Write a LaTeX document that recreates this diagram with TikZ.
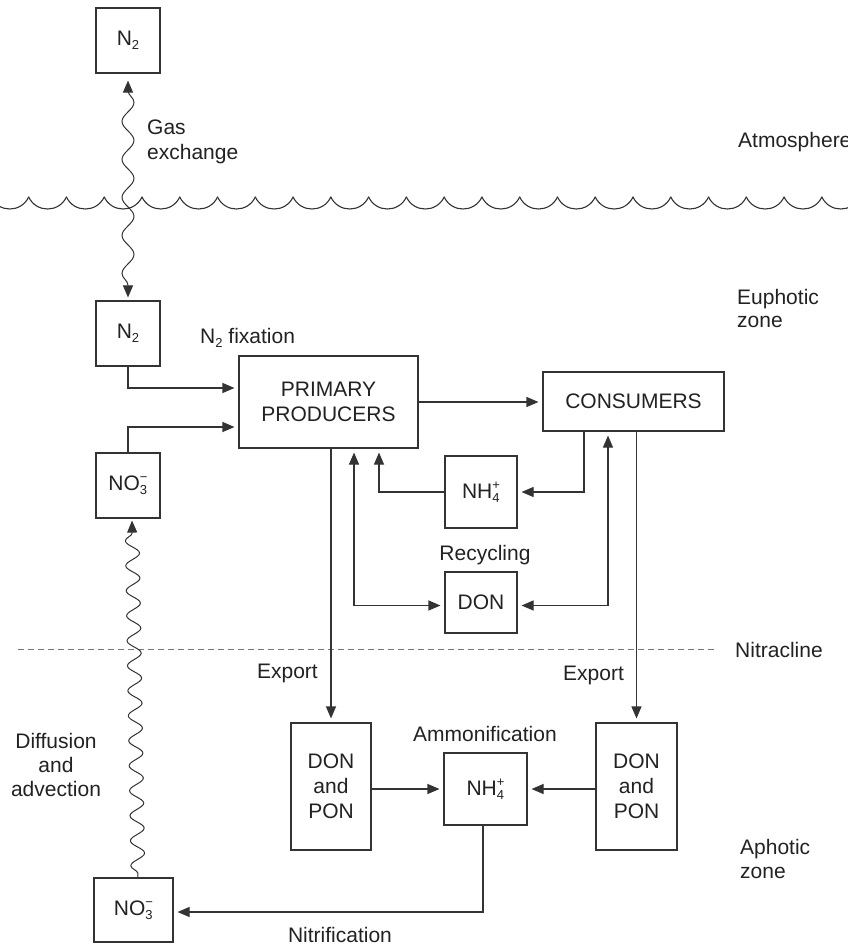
\documentclass[tikz,border=0pt]{standalone}
\usepackage{fontspec}
\setmainfont{Liberation Sans}
\usetikzlibrary{arrows.meta,decorations.pathmorphing}
\definecolor{lncol}{HTML}{333333}
\definecolor{txtcol}{HTML}{222222}
\definecolor{dashcol}{HTML}{777777}
\newcommand{\ssb}[2]{\rlap{\raisebox{-4pt}{\fontsize{13}{13}\selectfont #1}}\raisebox{9pt}{\fontsize{13}{13}\selectfont #2}}
\newcommand{\sbb}[1]{\raisebox{-4pt}{\fontsize{13}{13}\selectfont #1}}
\begin{document}
\begin{tikzpicture}[x=1pt,y=-1pt,
  every node/.style={font=\fontsize{21}{25}\selectfont, text=txtcol},
  box/.style={draw=lncol, line width=1.1pt, inner sep=0pt, align=center},
  lbl/.style={inner sep=0pt},
  arr/.style={draw=lncol, line width=1.1pt, -{Triangle[length=12pt,width=10pt]}, shorten >=4pt},
  darr/.style={draw=lncol, line width=1.1pt, {Triangle[length=12pt,width=10pt]}-{Triangle[length=12pt,width=10pt]}, shorten >=4pt, shorten <=4pt},
  plain/.style={draw=lncol, line width=1.1pt},
  sea/.style={draw=lncol, line width=1.1pt, line cap=round},
  gaswave/.style={draw=lncol, line width=1pt, decorate, decoration={snake, amplitude=6pt, segment length=38pt, pre length=10pt, post length=10pt}, {Triangle[length=12pt,width=10pt]}-{Triangle[length=12pt,width=10pt]}},
  difwave/.style={draw=lncol, line width=1pt, decorate, decoration={snake, amplitude=7pt, segment length=25pt, pre length=4pt, post length=12pt}, -{Triangle[length=12pt,width=10pt]}},
  nitra/.style={draw=dashcol, line width=1pt, dash pattern=on 6pt off 4pt}
]
\useasboundingbox (0,0) rectangle (848,945);
\fill[white] (0,0) rectangle (848,945);

% boxes
\node[box, minimum width=64pt, minimum height=65pt] (n2top) at (128,40.5) {N\sbb{2}};
\node[box, minimum width=64pt, minimum height=65pt] (n2low) at (128,333.5) {N\sbb{2}};
\node[box, minimum width=179pt, minimum height=92pt] (pp) at (328.5,402) {PRIMARY\\PRODUCERS};
\node[box, minimum width=181pt, minimum height=59pt] (cons) at (633.5,401.5) {CONSUMERS};
\node[box, minimum width=64pt, minimum height=65pt] (no3up) at (128,485.5) {NO\ssb{3}{−}};
\node[box, minimum width=72pt, minimum height=72pt] (nh4up) at (481,492) {NH\ssb{4}{+}};
\node[box, minimum width=72pt, minimum height=61pt] (don) at (481,602.5) {DON};
\node[box, minimum width=80pt, minimum height=127pt] (dprL) at (331,786.5) {DON\\and\\PON};
\node[box, minimum width=83pt, minimum height=72pt] (nh4low) at (485.5,789) {NH\ssb{4}{+}};
\node[box, minimum width=81pt, minimum height=127pt] (dprR) at (636.5,786.5) {DON\\and\\PON};
\node[box, minimum width=79pt, minimum height=64pt] (no3low) at (133.5,910) {NO\ssb{3}{−}};

% labels
\node[lbl, anchor=base west] (gas1) at (147,134) {Gas};
\node[lbl, anchor=base west] (gas2) at (147,159) {exchange};
\node[lbl, anchor=base west] (atm) at (738,147) {Atmosphere};
\node[lbl, anchor=base west] (eu1) at (737,304) {Euphotic};
\node[lbl, anchor=base west] (eu2) at (737,327) {zone};
\node[lbl, anchor=base west] (fix) at (200,343) {N\sbb{2} fixation};
\node[lbl, anchor=base] (rec) at (485,560) {Recycling};
\node[lbl, anchor=base west] (nitr) at (735,657) {Nitracline};
\node[lbl, anchor=base east] (expL) at (318,678) {Export};
\node[lbl, anchor=base west] (expR) at (563,680) {Export};
\node[lbl, anchor=base] (amm) at (485,741) {Ammonification};
\node[lbl, anchor=base] (dif1) at (56,748) {Diffusion};
\node[lbl, anchor=base] (dif2) at (56,772) {and};
\node[lbl, anchor=base] (dif3) at (56,796) {advection};
\node[lbl, anchor=base west] (aph1) at (740,854) {Aphotic};
\node[lbl, anchor=base west] (aph2) at (740,878) {zone};
\node[lbl, anchor=base] (nitrif) at (340,942) {Nitrification};

% sea surface
\foreach \k in {0,...,23}{
  \pgfmathsetmacro\xa{-9.08+37.77*\k}
  \draw[sea] (\xa,197) .. controls ({\xa+7.53},213) and ({\xa+30.24},213) .. ({\xa+37.77},197);
}

% nitracline
\draw[nitra] (18,649) -- (717,649);

% connectors
\draw[gaswave] ([yshift=-7pt]n2top.south) -- ([yshift=3pt]n2low.north);
\draw[arr] (n2low.south) |- ([yshift=14pt]pp.west);
\draw[arr] (no3up.north) |- ([yshift=-25pt]pp.west);
\draw[arr] (pp.east) -- (pp.east -| cons.west);
\draw[arr] (nh4up.west) -| ([xshift=50.5pt]pp.south);
\draw[darr] ([xshift=25.5pt]pp.south) |- ([yshift=-3pt]don.west);
\draw[arr] ([xshift=-49.5pt]cons.south) |- (nh4up.east);
\draw[darr] ([xshift=-25.5pt]cons.south) |- ([yshift=-3pt]don.east);
\draw[arr] (pp.south -| dprL.north) -- (dprL.north);
\draw[arr] (cons.south -| dprR.north) -- (dprR.north);
\draw[arr] (dprL.east |- nh4low.west) -- (nh4low.west);
\draw[arr] (dprR.west |- nh4low.east) -- (nh4low.east);
\draw[arr] ([xshift=-2.5pt]nh4low.south) |- ([yshift=-2pt]no3low.east);
\draw[difwave] ([xshift=4.5pt]no3low.north) -- ([xshift=4pt,yshift=-2pt]no3up.south);
\end{tikzpicture}
\end{document}
